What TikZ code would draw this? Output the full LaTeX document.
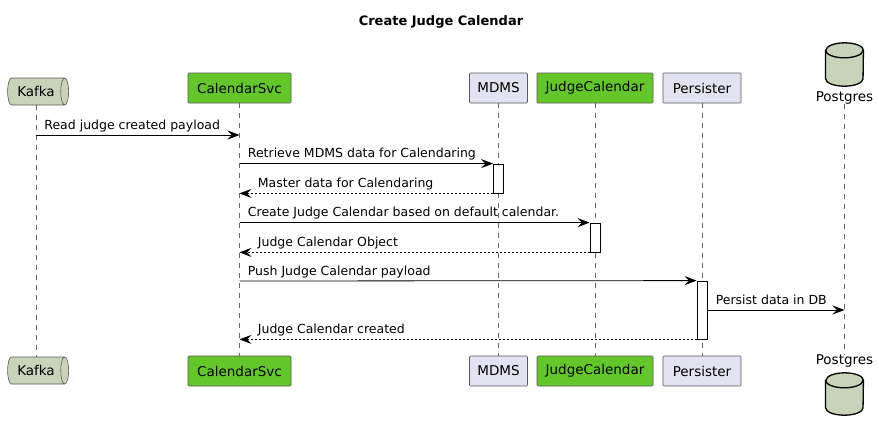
\documentclass[tikz,border=0pt]{standalone}
\usepackage{fontspec}
\setmainfont{DejaVu Sans}
\usetikzlibrary{arrows.meta,shapes.geometric}
\definecolor{partfill}{HTML}{E2E2F0}
\definecolor{greenfill}{HTML}{63C729}
\definecolor{dbfill}{HTML}{C9D3B9}

\begin{document}
\begin{tikzpicture}
[x=1pt,y=-1pt,
>={Stealth[length=12pt,width=9pt,inset=4.5pt]},
myactor/.style={draw=black!65,line width=0.6pt,fill=partfill,rounded corners=1pt,
  minimum height=30pt,inner sep=0pt,font=\fontsize{13.5}{16}\selectfont},
mygreen/.style={myactor,fill=greenfill},
myqueue/.style={cylinder,draw=black!65,line width=0.6pt,fill=dbfill,aspect=0.75,
  minimum width=27pt,minimum height=61pt,inner sep=0pt,font=\fontsize{13.5}{16}\selectfont},
mydb/.style={minimum width=37.5pt,inner sep=0pt},
mydbline/.style={draw=black,line width=1.3pt,fill=dbfill},
mydblabel/.style={inner sep=0pt,font=\fontsize{13.5}{16}\selectfont},
mylife/.style={draw=black!60,line width=0.5pt,dash pattern=on 5pt off 5pt},
myact/.style={draw=black,line width=0.8pt,fill=white,minimum width=10pt,inner sep=0pt},
mymsg/.style={->,line width=0.8pt},
myreply/.style={->,line width=0.8pt,dash pattern=on 2pt off 2pt},
mylabel/.style={inner sep=0pt,anchor=base west,yshift=6pt,font=\fontsize{12.5}{15}\selectfont}]
  \useasboundingbox (0,0) rectangle (879,434);
  \node[font=\bfseries\fontsize{13}{16}\selectfont] (title) at (441,22) {Create Judge Calendar};

  \node[myqueue] (kafka) at (36,91.5) {Kafka};
  \node[mygreen,minimum width=103pt] (svc) at (239.5,88) {CalendarSvc};
  \node[myactor,minimum width=58pt] (mdms) at (498.5,88) {MDMS};
  \node[mygreen,minimum width=116pt] (judge) at (595,88) {JudgeCalendar};
  \node[myactor,minimum width=78pt] (pers) at (702,88) {Persister};
  \node[mydb,minimum height=43pt] (pg) at (844.5,64.5) {};
  \node[mydblabel,anchor=north] (pglbl) at ([yshift=-5pt]pg.south) {Postgres};

  \node[myqueue] (kafkab) at (36,370.5) {Kafka};
  \node[mygreen,minimum width=103pt] (svcb) at (239.5,371) {CalendarSvc};
  \node[myactor,minimum width=58pt] (mdmsb) at (498.5,371) {MDMS};
  \node[mygreen,minimum width=116pt] (judgeb) at (595,371) {JudgeCalendar};
  \node[myactor,minimum width=78pt] (persb) at (702,371) {Persister};
  \node[mydb,minimum height=42pt] (pgb) at (844.5,394) {};
  \node[mydblabel,anchor=south] (pglblb) at ([yshift=5pt]pgb.north) {Postgres};

  \draw[mydbline] ([yshift=-7.5pt]pg.north west) -- ([yshift=7.5pt]pg.south west)
    arc[start angle=180,end angle=360,x radius=18.75pt,y radius=7.5pt]
    -- ([yshift=-7.5pt]pg.north east)
    arc[start angle=0,end angle=180,x radius=18.75pt,y radius=7.5pt] -- cycle;
  \draw[mydbline,fill=none] ([yshift=-7.5pt]pg.north west)
    arc[start angle=180,end angle=360,x radius=18.75pt,y radius=7.5pt];
  \draw[mydbline] ([yshift=-7.5pt]pgb.north west) -- ([yshift=7.5pt]pgb.south west)
    arc[start angle=180,end angle=360,x radius=18.75pt,y radius=7.5pt]
    -- ([yshift=-7.5pt]pgb.north east)
    arc[start angle=0,end angle=180,x radius=18.75pt,y radius=7.5pt] -- cycle;
  \draw[mydbline,fill=none] ([yshift=-7.5pt]pgb.north west)
    arc[start angle=180,end angle=360,x radius=18.75pt,y radius=7.5pt];

  \draw[mylife] (kafka.south) -- (kafkab.north);
  \draw[mylife] (svc.south) -- (svcb.north);
  \draw[mylife] (mdms.south) -- (mdmsb.north);
  \draw[mylife] (judge.south) -- (judgeb.north);
  \draw[mylife] (pers.south) -- (persb.north);
  \draw[mylife] (pglbl.south) -- (pglblb.north);

  \node[myact,minimum height=29pt] (act1) at (498.5,178.5) {};
  \node[myact,minimum height=29pt] (act2) at (595,237.5) {};
  \node[myact,minimum height=58pt] (act3) at (702,310) {};

  \coordinate (r1) at (0,135);
  \coordinate (r6) at (0,281);
  \coordinate (r7) at (0,310);

  \draw[mymsg] (kafka.south |- r1) -- (svc.south |- r1)
    node[mylabel,at start,xshift=8pt] {Read judge created payload};
  \draw[mymsg] (svc.south |- act1.north) -- (act1.north west)
    node[mylabel,at start,xshift=8pt] {Retrieve MDMS data for Calendaring};
  \draw[myreply] (act1.south west) -- (svc.south |- act1.south)
    node[mylabel,at end,xshift=18pt] {Master data for Calendaring};
  \draw[mymsg] (svc.south |- act2.north) -- (act2.north west)
    node[mylabel,at start,xshift=8pt] {Create Judge Calendar based on default calendar.};
  \draw[myreply] (act2.south west) -- (svc.south |- act2.south)
    node[mylabel,at end,xshift=18pt] {Judge Calendar Object};
  \draw[mymsg] (svc.south |- r6) -- (act3.north west)
    node[mylabel,at start,xshift=8pt] {Push Judge Calendar payload};
  \draw[mymsg] (act3.east |- r7) -- (pglbl.south |- r7)
    node[mylabel,at start,xshift=8pt] {Persist data in DB};
  \draw[myreply] (act3.south west) -- (svc.south |- act3.south)
    node[mylabel,at end,xshift=18pt] {Judge Calendar created};
\end{tikzpicture}
\end{document}
